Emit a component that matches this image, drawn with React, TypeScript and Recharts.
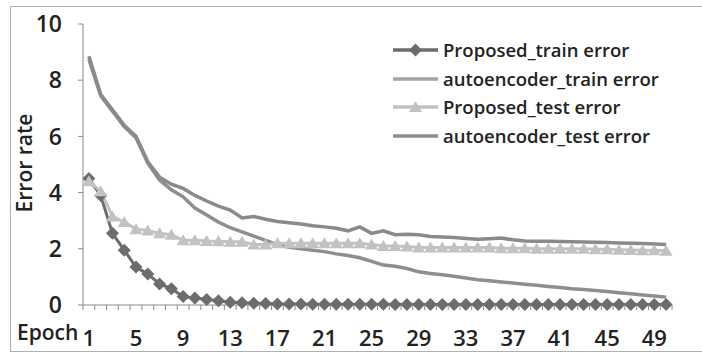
import React from "react";
import { Line, LineChart, XAxis, YAxis } from "recharts";

const epochs = [
  1, 2, 3, 4, 5, 6, 7, 8, 9, 10, 11, 12, 13, 14, 15, 16, 17, 18, 19, 20, 21, 22, 23, 24, 25,
  26, 27, 28, 29, 30, 31, 32, 33, 34, 35, 36, 37, 38, 39, 40, 41, 42, 43, 44, 45, 46, 47, 48, 49, 50,
];

const proposedTrain = [
  4.5, 3.9, 2.55, 1.95, 1.35, 1.1, 0.75, 0.58, 0.3, 0.25, 0.2, 0.15, 0.1, 0.08, 0.06, 0.05, 0.04,
  0.04, 0.04, 0.03, 0.03, 0.03, 0.03, 0.03, 0.03, 0.03, 0.02, 0.02, 0.02, 0.02, 0.02, 0.02, 0.02,
  0.02, 0.02, 0.02, 0.02, 0.02, 0.02, 0.02, 0.02, 0.02, 0.02, 0.02, 0.02, 0.02, 0.02, 0.02, 0.02, 0.02,
];

const autoencoderTrain = [
  8.75, 7.45, 6.9, 6.35, 5.95, 5.05, 4.45, 4.1, 3.85, 3.45, 3.2, 2.95, 2.75, 2.6, 2.45, 2.3, 2.15,
  2.05, 2.0, 1.95, 1.9, 1.82, 1.76, 1.68, 1.55, 1.42, 1.38, 1.3, 1.18, 1.12, 1.08, 1.02, 0.96, 0.9,
  0.86, 0.82, 0.78, 0.74, 0.7, 0.66, 0.62, 0.58, 0.55, 0.52, 0.48, 0.44, 0.4, 0.36, 0.32, 0.28,
];

const proposedTest = [
  4.4, 4.05, 3.15, 2.95, 2.7, 2.65, 2.55, 2.5, 2.3, 2.3, 2.28, 2.27, 2.25, 2.25, 2.15, 2.15, 2.2,
  2.2, 2.2, 2.2, 2.2, 2.2, 2.2, 2.2, 2.15, 2.1, 2.1, 2.08, 2.05, 2.05, 2.05, 2.05, 2.05, 2.05, 2.05,
  2.02, 2.02, 2.02, 2.0, 2.0, 2.0, 2.0, 2.0, 1.98, 1.98, 1.97, 1.96, 1.95, 1.95, 1.93,
];

const autoencoderTest = [
  8.85, 7.5, 6.95, 6.4, 6.0, 5.1, 4.55, 4.3, 4.15, 3.9, 3.7, 3.52, 3.38, 3.1, 3.15, 3.05, 2.97,
  2.93, 2.88, 2.82, 2.78, 2.73, 2.64, 2.78, 2.55, 2.64, 2.5, 2.52, 2.5, 2.44, 2.42, 2.4, 2.37, 2.34,
  2.36, 2.38, 2.32, 2.28, 2.27, 2.27, 2.26, 2.25, 2.24, 2.23, 2.22, 2.21, 2.2, 2.19, 2.17, 2.15,
];

const yTicks = [0, 2, 4, 6, 8, 10];

const data = epochs.map((epoch, i) => ({
  epoch,
  proposedTrain: proposedTrain[i],
  autoencoderTrain: autoencoderTrain[i],
  proposedTest: proposedTest[i],
  autoencoderTest: autoencoderTest[i],
}));

const FONT = "'Open Sans', sans-serif";
const TEXT = "#222";
const AXIS = "#8a8a8a";
const PLOT_LEFT = 83;
const PLOT_RIGHT = 672;
const BAND = (PLOT_RIGHT - PLOT_LEFT) / epochs.length;

const series = [
  { key: "proposedTrain", name: "Proposed_train error", color: "#6c6c6c", marker: "diamond" },
  { key: "autoencoderTrain", name: "autoencoder_train error", color: "#a3a3a3", marker: "none" },
  { key: "proposedTest", name: "Proposed_test error", color: "#c2c2c2", marker: "triangle" },
  { key: "autoencoderTest", name: "autoencoder_test error", color: "#8c8c8c", marker: "none" },
];

function Diamond({ cx, cy, color }: any) {
  if (cx == null || cy == null) return null;
  return <polygon points={`${cx},${cy - 6.5} ${cx + 6.5},${cy} ${cx},${cy + 6.5} ${cx - 6.5},${cy}`} fill={color} />;
}

function Triangle({ cx, cy, color }: any) {
  if (cx == null || cy == null) return null;
  return <polygon points={`${cx},${cy - 6} ${cx + 6.5},${cy + 5} ${cx - 6.5},${cy + 5}`} fill={color} />;
}

function EpochTick(props: any) {
  const { x, y, payload, index } = props;
  const left = x - BAND / 2;
  return (
    <g>
      <line x1={left} y1={y} x2={left} y2={y + 5} stroke={AXIS} strokeWidth={1} />
      {index === epochs.length - 1 && (
        <line x1={x + BAND / 2} y1={y} x2={x + BAND / 2} y2={y + 5} stroke={AXIS} strokeWidth={1} />
      )}
      {index % 4 === 0 && (
        <text x={x} y={y + 41} textAnchor="middle" fill={TEXT} fontSize={22} fontWeight={600} fontFamily={FONT}>
          {payload.value}
        </text>
      )}
    </g>
  );
}

function LegendBox() {
  return (
    <div
      style={{
        position: "absolute",
        left: 393,
        top: 36,
        fontFamily: FONT,
        fontSize: 18.5,
        fontWeight: 600,
        color: TEXT,
        lineHeight: "28.5px",
      }}
    >
      {series.map((s) => (
        <div key={s.key} style={{ display: "flex", alignItems: "center", whiteSpace: "nowrap" }}>
          <svg width={50} height={14}>
            <line x1={0} y1={7} x2={45} y2={7} stroke={s.color} strokeWidth={3.5} />
            {s.marker === "diamond" && <Diamond cx={22.5} cy={7} color={s.color} />}
            {s.marker === "triangle" && <Triangle cx={22.5} cy={7} color={s.color} />}
          </svg>
          <span>{s.name}</span>
        </div>
      ))}
    </div>
  );
}

export default function App() {
  return (
    <div style={{ position: "absolute", left: 0, top: 0, width: 702, height: 361, background: "#fff" }}>
      <div
        style={{
          position: "absolute",
          left: 10,
          top: 6,
          width: 700,
          height: 344,
          borderLeft: "1px solid #b0b0b0",
          borderTop: "1px solid #b0b0b0",
          borderBottom: "1px solid #b0b0b0",
        }}
      />
      <div style={{ position: "absolute", left: 0, top: 0 }}>
        <LineChart width={702} height={361} data={data} margin={{ top: 24, right: 30, bottom: 0, left: 0 }}>
          <XAxis
            dataKey="epoch"
            type="category"
            interval={0}
            height={56}
            padding={{ left: BAND / 2, right: BAND / 2 }}
            axisLine={{ stroke: AXIS, strokeWidth: 1 }}
            tickLine={false}
            tickSize={0}
            tickMargin={0}
            tick={<EpochTick />}
            label={{
              content: () => (
                <text x={17} y={340} fill={TEXT} fontSize={21} fontWeight={600} fontFamily={FONT}>
                  Epoch
                </text>
              ),
            }}
          />
          <YAxis
            width={83}
            domain={[0, 10]}
            ticks={yTicks}
            interval={0}
            axisLine={{ stroke: AXIS, strokeWidth: 1 }}
            tickLine={{ stroke: AXIS }}
            tickSize={5}
            tickMargin={16}
            tick={{ fill: TEXT, fontSize: 23, fontWeight: 600, fontFamily: FONT }}
            label={{
              content: () => (
                <text
                  x={32}
                  y={163}
                  transform="rotate(-90 32 163)"
                  textAnchor="middle"
                  fill={TEXT}
                  fontSize={21}
                  fontWeight={600}
                  fontFamily={FONT}
                >
                  Error rate
                </text>
              ),
            }}
          />
          <Line
            dataKey="proposedTrain"
            name="Proposed_train error"
            stroke="#6c6c6c"
            strokeWidth={3}
            dot={(p: any) => <Diamond key={`d${p.index}`} cx={p.cx} cy={p.cy} color="#6c6c6c" />}
            activeDot={false}
            isAnimationActive={false}
          />
          <Line
            dataKey="autoencoderTrain"
            name="autoencoder_train error"
            stroke="#8e8e8e"
            strokeWidth={3.5}
            dot={false}
            activeDot={false}
            isAnimationActive={false}
          />
          <Line
            dataKey="proposedTest"
            name="Proposed_test error"
            stroke="#c2c2c2"
            strokeWidth={3}
            dot={(p: any) => <Triangle key={`t${p.index}`} cx={p.cx} cy={p.cy} color="#c2c2c2" />}
            activeDot={false}
            isAnimationActive={false}
          />
          <Line
            dataKey="autoencoderTest"
            name="autoencoder_test error"
            stroke="#8a8a8a"
            strokeWidth={3.5}
            dot={false}
            activeDot={false}
            isAnimationActive={false}
          />
        </LineChart>
      </div>
      <LegendBox />
    </div>
  );
}
